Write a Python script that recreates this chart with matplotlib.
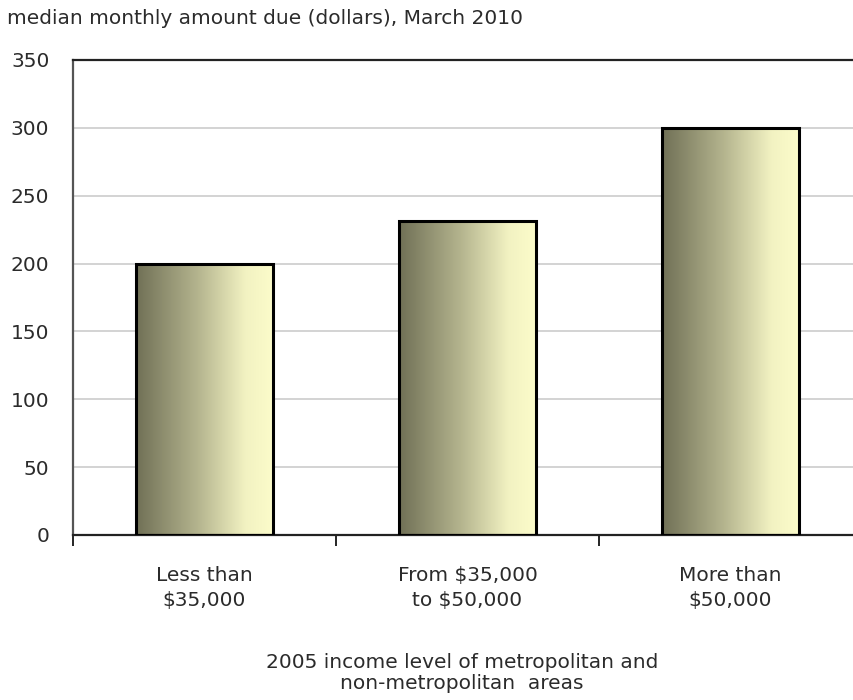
import matplotlib.pyplot as plt
import numpy as np
from matplotlib.colors import LinearSegmentedColormap

categories = ['Less than\n$35,000', 'From $35,000\nto $50,000', 'More than\n$50,000']
amounts = [200, 231, 300]
y_ticks = [0, 50, 100, 150, 200, 250, 300, 350]

title = 'median monthly amount due (dollars), March 2010'
x_title = '2005 income level of metropolitan and\nnon-metropolitan  areas'

# olive to pale yellow shading across each bar
shade = LinearSegmentedColormap.from_list(
    'olive', [(0.0, '#707056'), (0.45, '#b4b48e'), (0.8, '#f2f2c2'), (1.0, '#fcfcca')])

plt.rcParams['font.family'] = 'DejaVu Sans'
text_col = '#2b2b2b'
fs = 14.5

fig = plt.figure(figsize=(8.54, 7.0), dpi=100)
ax = fig.add_axes([73/854, 1-535/700, 3*263/854, 475/700])

x = np.arange(len(categories))
bar_w = 0.52
bars = ax.bar(x, amounts, bar_w, facecolor='none', edgecolor='black', linewidth=2.2, zorder=3)

grad = np.linspace(0, 1, 256).reshape(1, -1)
for b in bars:
    x0, y0 = b.get_x(), b.get_y()
    im = ax.imshow(grad, cmap=shade, aspect='auto', zorder=2,
                   extent=[x0, x0 + b.get_width(), y0, y0 + b.get_height()])
    im.set_clip_path(b)

ax.set_xlim(-0.5, len(categories) - 0.5)
ax.set_ylim(0, 350)
ax.set_yticks(y_ticks)
ax.set_yticklabels([str(v) for v in y_ticks], fontsize=fs, color=text_col)
ax.tick_params(axis='y', length=0, pad=17)
ax.yaxis.grid(True, color='#cccccc', linewidth=1.2, zorder=0)
ax.set_axisbelow(True)

# boundary ticks below the axis, category names on minor ticks
ax.set_xticks(np.arange(-0.5, len(categories)))
ax.set_xticklabels([])
ax.tick_params(axis='x', which='major', direction='out', length=8, width=1.2, color='black')
ax.set_xticks(x, minor=True)
ax.set_xticklabels(categories, minor=True, fontsize=fs, color=text_col, linespacing=1.4)
ax.tick_params(axis='x', which='minor', length=0, pad=22)

for side in ['left', 'top', 'bottom']:
    ax.spines[side].set_linewidth(1.6)
    ax.spines[side].set_color('#222222')
ax.spines['left'].set_color('#555555')
ax.spines['right'].set_visible(False)

fig.text(7/854, 1-18/700, title, fontsize=fs, color=text_col, ha='left', va='center')
fig.text(462/854, 1-673/700, x_title, fontsize=fs, color=text_col, ha='center', va='center',
         linespacing=1.15)

fig.savefig('out.png', dpi=100)
